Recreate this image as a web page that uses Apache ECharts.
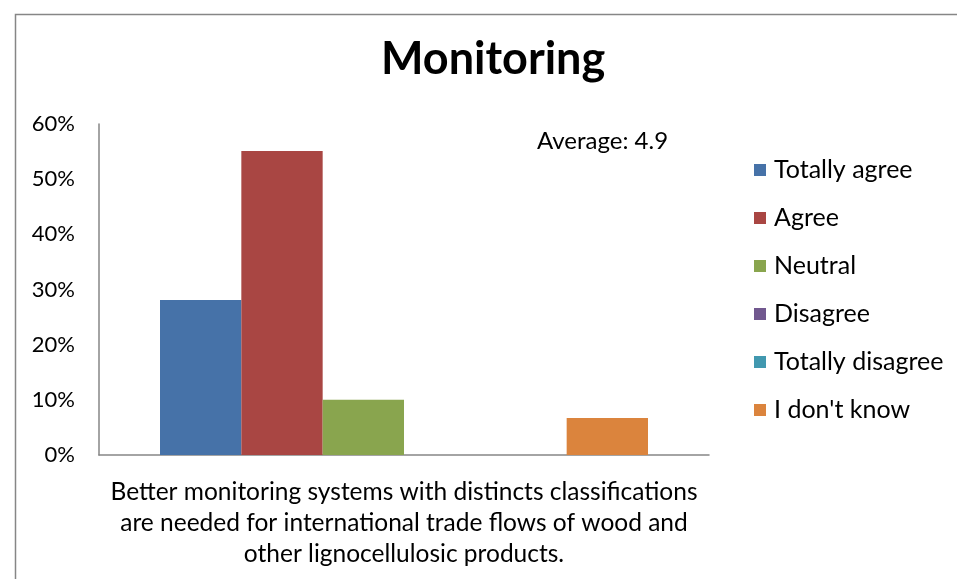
<!DOCTYPE html>
<html>
<head>
<meta charset="utf-8">
<script src="https://cdn.jsdelivr.net/npm/echarts@6/dist/echarts.min.js"></script>
<style>
  html, body { margin: 0; padding: 0; background: #fff; }
  #chart { width: 957px; height: 579px; }
</style>
</head>
<body>
<div id="chart"></div>
<script>
// Survey statement (single category on the x axis)
const categories = [
  'Better monitoring systems with distincts classifications\nare needed for international trade flows of wood and\nother lignocellulosic products.'
];
// Answer options, one bar series each
const seriesNames = ['Totally agree', 'Agree', 'Neutral', 'Disagree', 'Totally disagree', "I don't know"];
// Share of respondents (%) per answer
const seriesValues = [28.1, 55.1, 10.0, 0, 0, 6.7];
const seriesColors = ['#4672A8', '#A94643', '#89A54E', '#71588F', '#4198AF', '#DB843D'];
// Value-axis ticks
const yMin = 0, yMax = 60, yStep = 10;
const averageText = 'Average: 4.9';

const FONT = 'Lato, Carlito, "Open Sans", sans-serif';
const chart = echarts.init(document.getElementById('chart'), null, { renderer: 'canvas' });

chart.setOption({
  animation: false,
  backgroundColor: '#fff',
  color: seriesColors,
  title: {
    text: 'Monitoring',
    left: 376,
    top: 32,
    textStyle: { fontFamily: FONT, fontWeight: 'bold', fontSize: 45, color: '#000' }
  },
  graphic: [
    {
      type: 'rect',
      left: 13, top: 12,
      shape: { width: 1000, height: 1000 },
      style: { fill: 'none', stroke: '#868686', lineWidth: 1.5 },
      silent: true
    },
    {
      type: 'text',
      left: 537, top: 129,
      style: { text: averageText, fontFamily: FONT, fontSize: 24, fill: '#000' }
    }
  ],
  legend: {
    orient: 'vertical',
    left: 749,
    top: 152,
    itemWidth: 12,
    itemHeight: 12,
    itemGap: 22,
    icon: 'rect',
    data: seriesNames,
    textStyle: { fontFamily: FONT, fontSize: 25, color: '#000', lineHeight: 26, padding: [0, 0, 0, 3] }
  },
  grid: { left: 99, top: 124, width: 610, height: 331, containLabel: false },
  xAxis: {
    type: 'category',
    data: categories,
    axisLine: { lineStyle: { color: '#868686', width: 1.5 } },
    axisTick: { show: false },
    axisLabel: {
      fontFamily: FONT, fontSize: 24.5, color: '#000', lineHeight: 31,
      align: 'center', margin: 22
    }
  },
  yAxis: {
    type: 'value',
    min: yMin, max: yMax, interval: yStep,
    splitLine: { show: false },
    axisLine: { show: true, lineStyle: { color: '#868686', width: 1.5 } },
    axisTick: { show: false },
    axisLabel: {
      fontFamily: FONT, fontSize: 22, color: '#000', margin: 24,
      formatter: v => v + '%'
    }
  },
  series: seriesNames.map((name, i) => ({
    name,
    type: 'bar',
    barGap: '0%',
    barCategoryGap: '20%',
    data: [seriesValues[i]],
    itemStyle: { color: seriesColors[i] }
  }))
});
</script>
</body>
</html>
